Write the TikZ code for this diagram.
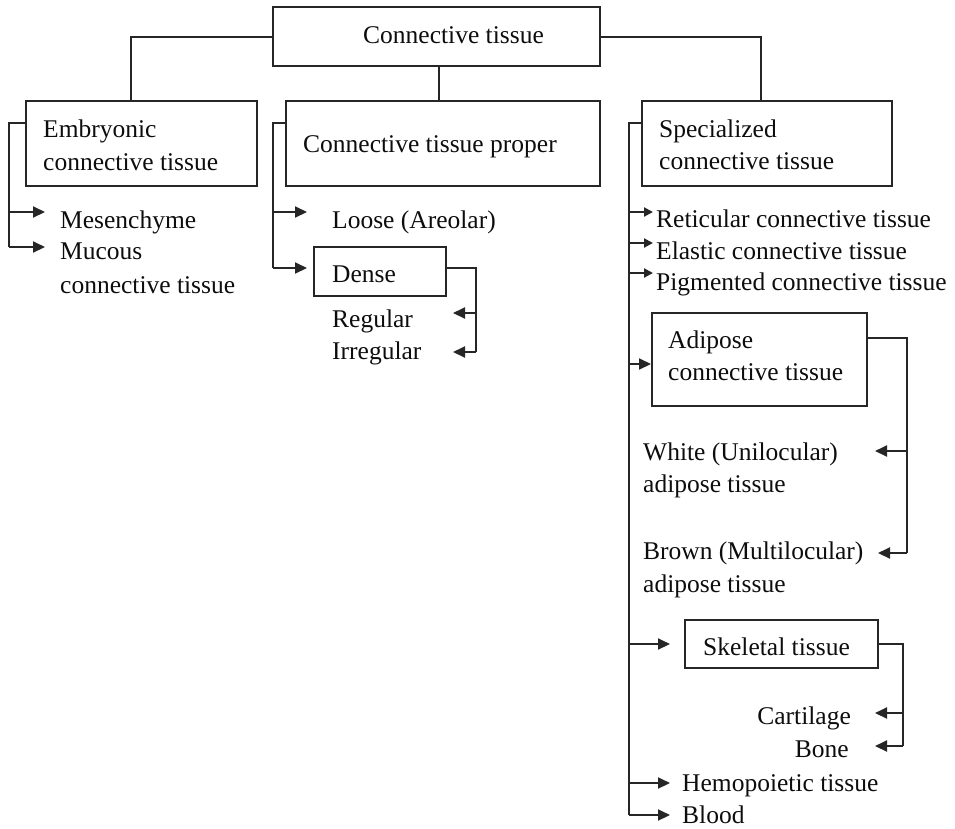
\documentclass[tikz,border=0pt]{standalone}
\usepackage{fontspec}
\setmainfont{Liberation Serif}
\usetikzlibrary{arrows.meta}
\begin{document}
\begin{tikzpicture}[x=1pt,y=-1pt,
  ln/.style={line width=2pt,draw=black!85},
  arw/.style={ln,-{Triangle[length=12pt,width=11pt]}},
  arws/.style={ln,-{Triangle[length=9pt,width=9pt]}},
  box/.style={draw=black!85,line width=2pt,rectangle,inner sep=0pt},
  lbl/.style={font=\fontsize{25.5}{33}\selectfont,inner sep=0pt,anchor=base west,text=black!95},
  lble/.style={lbl,anchor=base east}]
\useasboundingbox (0,0) rectangle (955,828);
% boxes
\node[box,minimum width=327pt,minimum height=59pt] (top) at (436.5,36.5) {};
\node[box,minimum width=231pt,minimum height=85pt] (emb) at (141.5,143.5) {};
\node[box,minimum width=314pt,minimum height=85pt] (prop) at (443,143.5) {};
\node[box,minimum width=250pt,minimum height=85pt] (spec) at (767,143.5) {};
\node[box,minimum width=132pt,minimum height=49pt] (dense) at (380,271.5) {};
\node[box,minimum width=215pt,minimum height=93pt] (adip) at (759.5,359.5) {};
\node[box,minimum width=193pt,minimum height=48pt] (skel) at (781.5,644) {};
% texts
\node[lbl] (tTop) at (363,43) {Connective tissue};
\node[lbl] (tEmb1) at (43,137) {Embryonic};
\node[lbl] (tEmb2) at (43,170) {connective tissue};
\node[lbl] (tProp) at (303,152) {Connective tissue proper};
\node[lbl] (tSpec1) at (659,137) {Specialized};
\node[lbl] (tSpec2) at (659,169) {connective tissue};
\node[lbl] (tMes) at (60,228) {Mesenchyme};
\node[lbl] (tMuc1) at (60,259) {Mucous};
\node[lbl] (tMuc2) at (60,293) {connective tissue};
\node[lbl] (tLoose) at (332,228) {Loose (Areolar)};
\node[lbl] (tDense) at (332,282) {Dense};
\node[lbl] (tReg) at (332,327) {Regular};
\node[lbl] (tIrr) at (332,359) {Irregular};
\node[lbl] (tRet) at (656,227) {Reticular connective tissue};
\node[lbl] (tEla) at (656,259) {Elastic connective tissue};
\node[lbl] (tPig) at (656,290) {Pigmented connective tissue};
\node[lbl] (tAd1) at (668,348) {Adipose};
\node[lbl] (tAd2) at (668,380) {connective tissue};
\node[lbl] (tWh1) at (643,460) {White (Unilocular)};
\node[lbl] (tWh2) at (643,492) {adipose tissue};
\node[lbl] (tBr1) at (643,559) {Brown (Multilocular)};
\node[lbl] (tBr2) at (643,592) {adipose tissue};
\node[lbl] (tSkel) at (703,655) {Skeletal tissue};
\node[lble] (tCart) at (851,724) {Cartilage};
\node[lble] (tBone) at (849,757) {Bone};
\node[lbl] (tHem) at (682,791) {Hemopoietic tissue};
\node[lbl] (tBlood) at (682,823) {Blood};
% coordinates
\coordinate (eJ1) at (9,212); \coordinate (eJ2) at (9,247);
\coordinate (eA1) at (45,212); \coordinate (eA2) at (45,247);
\coordinate (pJ1) at (273,212); \coordinate (pJ2) at (273,268);
\coordinate (pA1) at (307,212);
\coordinate (dJ1) at (476,313); \coordinate (dJ2) at (476,352);
\coordinate (dA1) at (453,313); \coordinate (dA2) at (453,352);
\coordinate (sJ1) at (629,212); \coordinate (sJ2) at (629,243); \coordinate (sJ3) at (629,273);
\coordinate (sJ4) at (629,364); \coordinate (sJ5) at (629,644); \coordinate (sJ6) at (629,783);
\coordinate (sJ7) at (629,815);
\coordinate (sA1) at (653,212); \coordinate (sA2) at (653,243); \coordinate (sA3) at (653,273);
\coordinate (sA5) at (670,644); \coordinate (sA6) at (670,783); \coordinate (sA7) at (670,815);
\coordinate (aJ1) at (907,451); \coordinate (aJ2) at (907,553);
\coordinate (aA1) at (875,451); \coordinate (aA2) at (878,553);
\coordinate (kJ1) at (903,713); \coordinate (kJ2) at (903,746);
\coordinate (kA1) at (875,713); \coordinate (kA2) at (875,746);
% top connectors
\draw[ln] (top.west) -| ([xshift=-10.5pt]emb.north);
\draw[ln] ([xshift=2.5pt]top.south) -- ([xshift=-4pt]prop.north);
\draw[ln] (top.east) -| ([xshift=-6pt]spec.north);
% embryonic
\draw[ln] ([yshift=-23pt]emb.north west) -| (eJ2);
\draw[arw] (eJ1) -- (eA1);
\draw[arw] (eJ2) -- (eA2);
% proper
\draw[ln] ([yshift=-23pt]prop.north west) -| (pJ2);
\draw[arw] (pJ1) -- (pA1);
\draw[arw] (pJ2) -- ([xshift=-6pt,yshift=3.5pt]dense.west);
\draw[ln] ([yshift=3.5pt]dense.east) -| (dJ2);
\draw[arw] (dJ1) -- (dA1);
\draw[arw] (dJ2) -- (dA2);
% specialized
\draw[ln] ([yshift=-23pt]spec.north west) -| (sJ7);
\draw[arws] (sJ1) -- (sA1);
\draw[arws] (sJ2) -- (sA2);
\draw[arws] (sJ3) -- (sA3);
\draw[arw] (sJ4) -- (sJ4 -| adip.west);
\draw[arw] (sJ5) -- (sA5);
\draw[arw] (sJ6) -- (sA6);
\draw[arw] (sJ7) -- (sA7);
% adipose
\draw[ln] ([yshift=21.5pt]adip.east) -| (aJ2);
\draw[arw] (aJ1) -- (aA1);
\draw[arw] (aJ2) -- (aA2);
% skeletal
\draw[ln] (skel.east) -| (kJ2);
\draw[arw] (kJ1) -- (kA1);
\draw[arw] (kJ2) -- (kA2);
\end{tikzpicture}
\end{document}
